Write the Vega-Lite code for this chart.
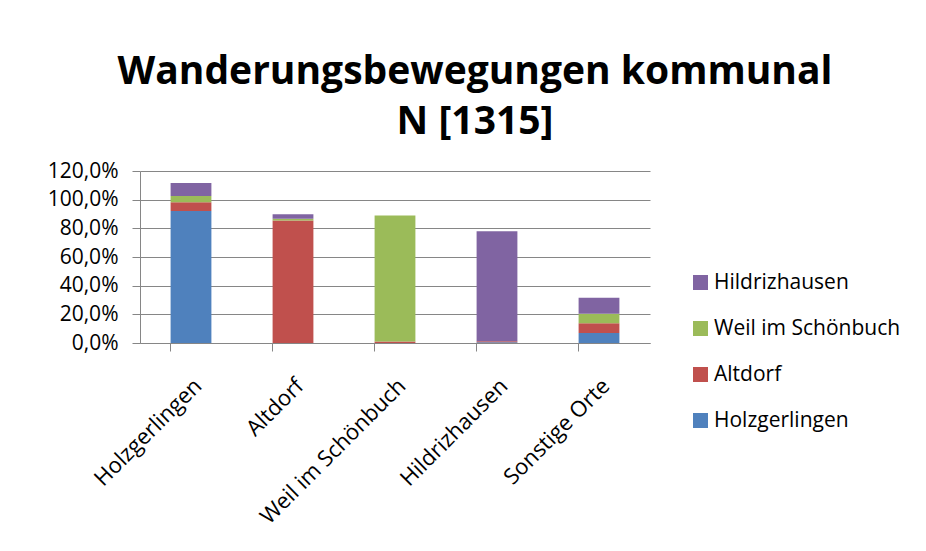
{
  "$schema": "https://vega.github.io/schema/vega-lite/v6.json",
  "autosize": {"type": "none"},
  "width": 510,
  "height": 172,
  "padding": {"left": 140, "top": 171, "right": 276, "bottom": 208},
  "background": "white",
  "title": {
    "text": ["Wanderungsbewegungen kommunal", "N [1315]"],
    "font": "Open Sans",
    "fontSize": 39,
    "fontWeight": "bold",
    "color": "black",
    "anchor": "middle",
    "dx": 80,
    "baseline": "bottom",
    "lineHeight": 50,
    "offset": -21
  },
  "data": {
    "values": [
      {"ziel": "Holzgerlingen", "herkunft": "Holzgerlingen", "rank": 1, "anteil": 0.921},
      {"ziel": "Holzgerlingen", "herkunft": "Altdorf", "rank": 2, "anteil": 0.061},
      {"ziel": "Holzgerlingen", "herkunft": "Weil im Schönbuch", "rank": 3, "anteil": 0.044},
      {"ziel": "Holzgerlingen", "herkunft": "Hildrizhausen", "rank": 4, "anteil": 0.090},
      {"ziel": "Altdorf", "herkunft": "Holzgerlingen", "rank": 1, "anteil": 0.0},
      {"ziel": "Altdorf", "herkunft": "Altdorf", "rank": 2, "anteil": 0.854},
      {"ziel": "Altdorf", "herkunft": "Weil im Schönbuch", "rank": 3, "anteil": 0.012},
      {"ziel": "Altdorf", "herkunft": "Hildrizhausen", "rank": 4, "anteil": 0.032},
      {"ziel": "Weil im Schönbuch", "herkunft": "Holzgerlingen", "rank": 1, "anteil": 0.0},
      {"ziel": "Weil im Schönbuch", "herkunft": "Altdorf", "rank": 2, "anteil": 0.011},
      {"ziel": "Weil im Schönbuch", "herkunft": "Weil im Schönbuch", "rank": 3, "anteil": 0.878},
      {"ziel": "Weil im Schönbuch", "herkunft": "Hildrizhausen", "rank": 4, "anteil": 0.0},
      {"ziel": "Hildrizhausen", "herkunft": "Holzgerlingen", "rank": 1, "anteil": 0.006},
      {"ziel": "Hildrizhausen", "herkunft": "Altdorf", "rank": 2, "anteil": 0.006},
      {"ziel": "Hildrizhausen", "herkunft": "Weil im Schönbuch", "rank": 3, "anteil": 0.0},
      {"ziel": "Hildrizhausen", "herkunft": "Hildrizhausen", "rank": 4, "anteil": 0.768},
      {"ziel": "Sonstige Orte", "herkunft": "Holzgerlingen", "rank": 1, "anteil": 0.070},
      {"ziel": "Sonstige Orte", "herkunft": "Altdorf", "rank": 2, "anteil": 0.067},
      {"ziel": "Sonstige Orte", "herkunft": "Weil im Schönbuch", "rank": 3, "anteil": 0.067},
      {"ziel": "Sonstige Orte", "herkunft": "Hildrizhausen", "rank": 4, "anteil": 0.111}
    ]
  },
  "mark": {"type": "bar"},
  "encoding": {
    "x": {
      "field": "ziel",
      "type": "nominal",
      "sort": null,
      "scale": {"paddingInner": 0.6, "paddingOuter": 0.3},
      "axis": {
        "title": null,
        "labelAngle": -45,
        "labelFont": "Open Sans",
        "labelFontSize": 22,
        "labelColor": "black",
        "labelPadding": 24,
        "labelLimit": 400,
        "bandPosition": 0,
        "tickSize": 8,
        "tickColor": "#868686",
        "domainColor": "#868686",
        "grid": false
      }
    },
    "y": {
      "field": "anteil",
      "type": "quantitative",
      "stack": "zero",
      "scale": {"domain": [0, 1.2], "nice": false},
      "axis": {
        "title": null,
        "values": [0, 0.2, 0.4, 0.6, 0.8, 1.0, 1.2],
        "labelExpr": "replace(format(datum.value, '.1%'), '.', ',')",
        "labelFont": "Open Sans",
        "labelFontSize": 21,
        "labelColor": "black",
        "labelPadding": 14,
        "tickSize": 8,
        "tickColor": "#868686",
        "domainColor": "#868686",
        "gridColor": "#868686",
        "gridWidth": 1
      }
    },
    "color": {
      "field": "herkunft",
      "type": "nominal",
      "scale": {
        "domain": ["Hildrizhausen", "Weil im Schönbuch", "Altdorf", "Holzgerlingen"],
        "range": ["#8064A2", "#9BBB59", "#C0504D", "#4F81BD"]
      },
      "legend": {
        "title": null,
        "orient": "none",
        "legendX": 550,
        "legendY": 101,
        "symbolType": "square",
        "symbolSize": 225,
        "symbolStrokeWidth": 0,
        "labelFont": "Open Sans",
        "labelFontSize": 21,
        "labelColor": "black",
        "labelOffset": 3,
        "labelLimit": 400,
        "rowPadding": 24
      }
    },
    "order": {"field": "rank", "type": "quantitative", "sort": "ascending"}
  },
  "config": {
    "view": {"stroke": null}
  }
}
